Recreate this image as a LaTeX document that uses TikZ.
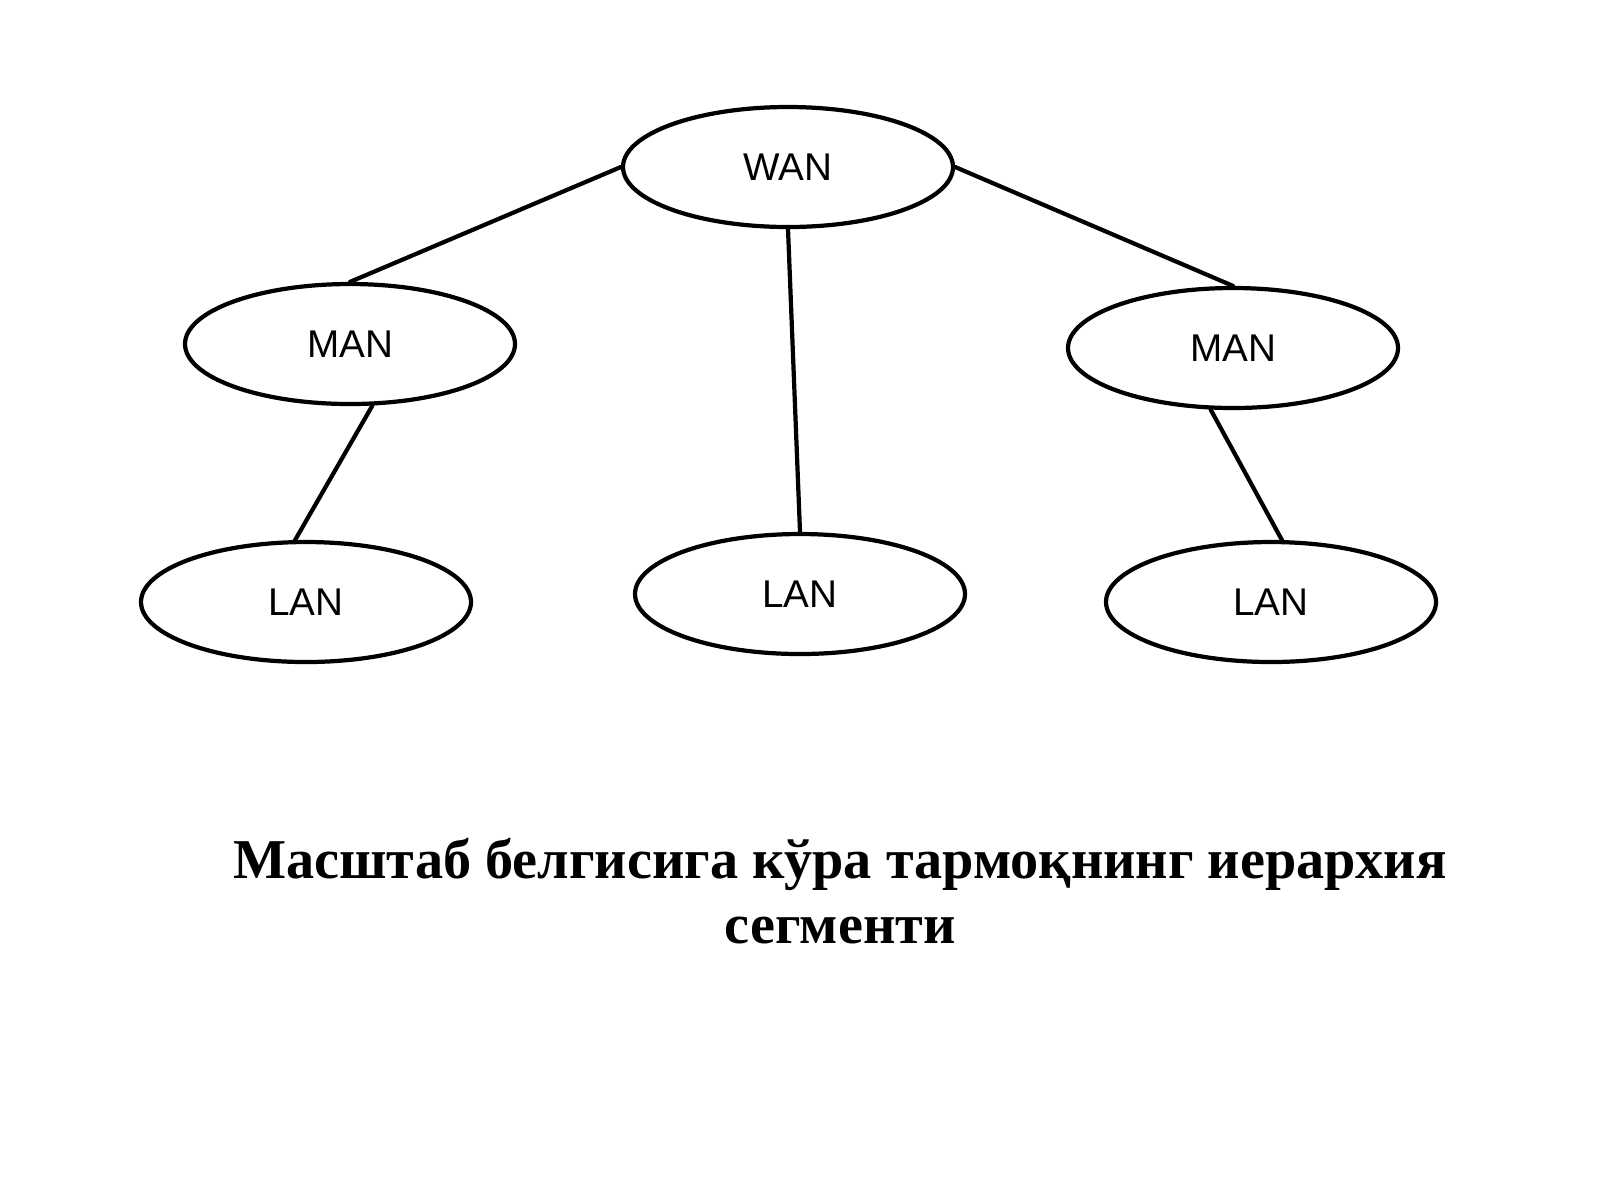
\documentclass[tikz,border=0pt]{standalone}
\usepackage{fontspec}
\setmainfont{Liberation Serif}
\newfontfamily\arialfont{Liberation Sans}
\usetikzlibrary{shapes.geometric}
\begin{document}
\begin{tikzpicture}[line cap=round, line join=round,
	net/.style={ellipse, draw, line width=1.2pt, minimum width=3.3cm, minimum height=1.2cm,
		inner sep=0pt, font=\arialfont\fontsize{11}{13}\selectfont},
	link/.style={line width=1.2pt}]
\useasboundingbox (0,0) rectangle (16,-12);

% levels
\node[net] (wan) at (7.88,-1.67) {WAN};
\node[net] (man1) at (3.50,-3.44) {MAN};
\node[net] (man2) at (12.33,-3.48) {MAN};
\node[net] (lan1) at (3.06,-6.02) {LAN};
\node[net] (lan2) at (8.00,-5.94) {LAN};
\node[net] (lan3) at (12.71,-6.02) {LAN};

% links
\draw[link] (wan.west) -- (man1.north);
\draw[link] (wan.east) -- (man2.north);
\draw[link] (wan.south) -- (lan2.north);
\draw[link] (man1.-70) -- (lan1.100);
\draw[link] (man2.-110) -- (lan3.80);

% caption
\node[font=\bfseries\fontsize{16}{18.5}\selectfont, align=center] (title) at (8.40,-8.91)
	{Масштаб белгисига кўра тармоқнинг иерархия\\сегменти};
\end{tikzpicture}
\end{document}
